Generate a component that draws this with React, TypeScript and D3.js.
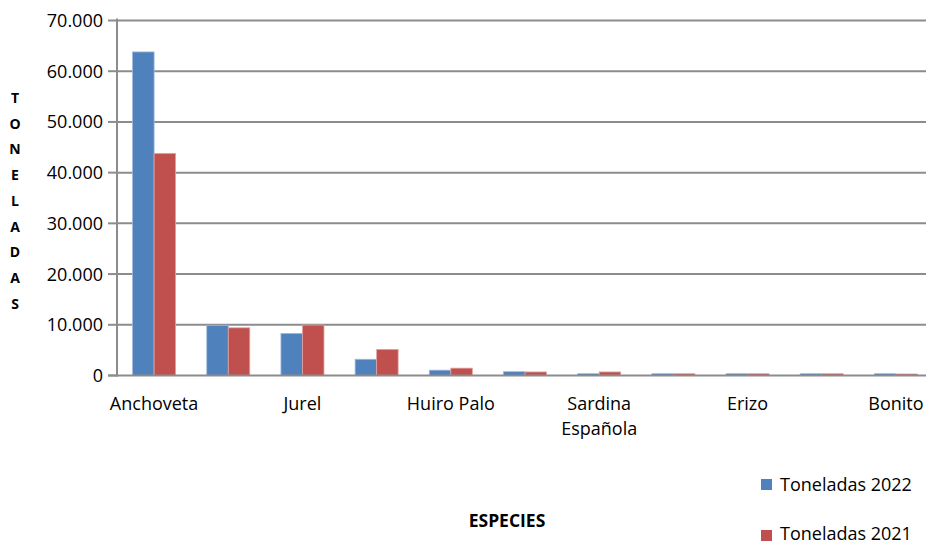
import React from "react";
import * as d3 from "d3";

const categories = [
  "Anchoveta", "Caballa", "Jurel", "Jibia", "Huiro Palo", "Huiro Negro",
  "Sardina Española", "Pulpo", "Erizo", "Lapa", "Bonito",
];
const seriesNames = ["Toneladas 2022", "Toneladas 2021"];
const values2022 = [63800, 9900, 8300, 3200, 1050, 750, 350, 350, 350, 350, 350];
const values2021 = [43800, 9400, 9950, 5150, 1450, 700, 700, 350, 350, 350, 300];
const yTicks = [0, 10000, 20000, 30000, 40000, 50000, 60000, 70000];
const yTitle = "TONELADAS";
const xTitle = "ESPECIES";

const W = 926;
const H = 545;
const FONT = "'Open Sans', Lato, sans-serif";
const colors = ["#4F81BD", "#C0504D"];
const strokes = ["#9DB9DD", "#E0A4A2"];
const GRID = "#8C8C8C";

export default function App() {
  const left = 117;
  const right = 933;
  const y0 = 375.5;
  const yTop = 20.5;

  const x = d3.scaleBand<string>().domain(categories).range([left, right]).paddingInner(0.42).paddingOuter(0.21);
  const xs = d3.scaleBand<string>().domain(seriesNames).range([0, x.bandwidth()]);
  const y = d3.scaleLinear().domain([0, 70000]).range([y0, yTop]);
  const fmt = (v: number) => (v === 0 ? "0" : d3.format(",")(v).replace(/,/g, "."));
  const series = [values2022, values2021];

  return (
    <svg width={W} height={H} style={{ position: "absolute", left: 0, top: 0, background: "#fff" }} fontFamily={FONT}>
      {yTicks.filter((t) => t > 0).map((t) => (
        <line key={"g" + t} x1={left} x2={W} y1={y(t)} y2={y(t)} stroke={GRID} strokeWidth={2} />
      ))}
      {yTicks.map((t) => (
        <g key={"t" + t}>
          <line x1={108} x2={left} y1={y(t)} y2={y(t)} stroke={GRID} strokeWidth={2} />
          <text x={103} y={y(t)} dy="0.36em" textAnchor="end" fontSize={18} fill="#000">{fmt(t)}</text>
        </g>
      ))}
      {categories.map((c, i) => (
        <g key={c}>
          {series.map((vals, s) => (
            <rect
              key={s}
              x={(x(c) as number) + (xs(seriesNames[s]) as number)}
              y={y(vals[i])}
              width={xs.bandwidth()}
              height={y0 - y(vals[i])}
              fill={colors[s]}
              stroke={strokes[s]}
              strokeWidth={0.8}
            />
          ))}
        </g>
      ))}
      <line x1={left} x2={left} y1={yTop - 2} y2={y0 + 1} stroke={GRID} strokeWidth={2} />
      <line x1={108} x2={W} y1={y0} y2={y0} stroke={GRID} strokeWidth={2} />
      {categories.map((c, i) => {
        if (i % 2 !== 0) return null;
        const cx = (x(c) as number) + x.bandwidth() / 2;
        const lines = c.length > 12 ? c.split(" ") : [c];
        return (
          <text key={"l" + c} x={cx} y={410} textAnchor="middle" fontSize={18} fill="#000">
            {lines.map((ln, k) => (
              <tspan key={k} x={cx} dy={k === 0 ? 0 : 25}>{ln}</tspan>
            ))}
          </text>
        );
      })}
      {yTitle.split("").map((ch, k) => (
        <text key={"y" + k} x={15} y={98 + k * 25.7} dy="0.36em" textAnchor="middle" fontSize={14} fontWeight="bold" fill="#000">{ch}</text>
      ))}
      <text x={507} y={521} dy="0.36em" textAnchor="middle" fontSize={17.5} fontWeight="bold" fill="#000">{xTitle}</text>
      {seriesNames.map((n, s) => (
        <g key={n}>
          <rect x={761} y={479 + s * 51} width={11} height={11} fill={colors[s]} />
          <text x={780} y={485 + s * 49} dy="0.36em" fontSize={18} fill="#000">{n}</text>
        </g>
      ))}
    </svg>
  );
}
